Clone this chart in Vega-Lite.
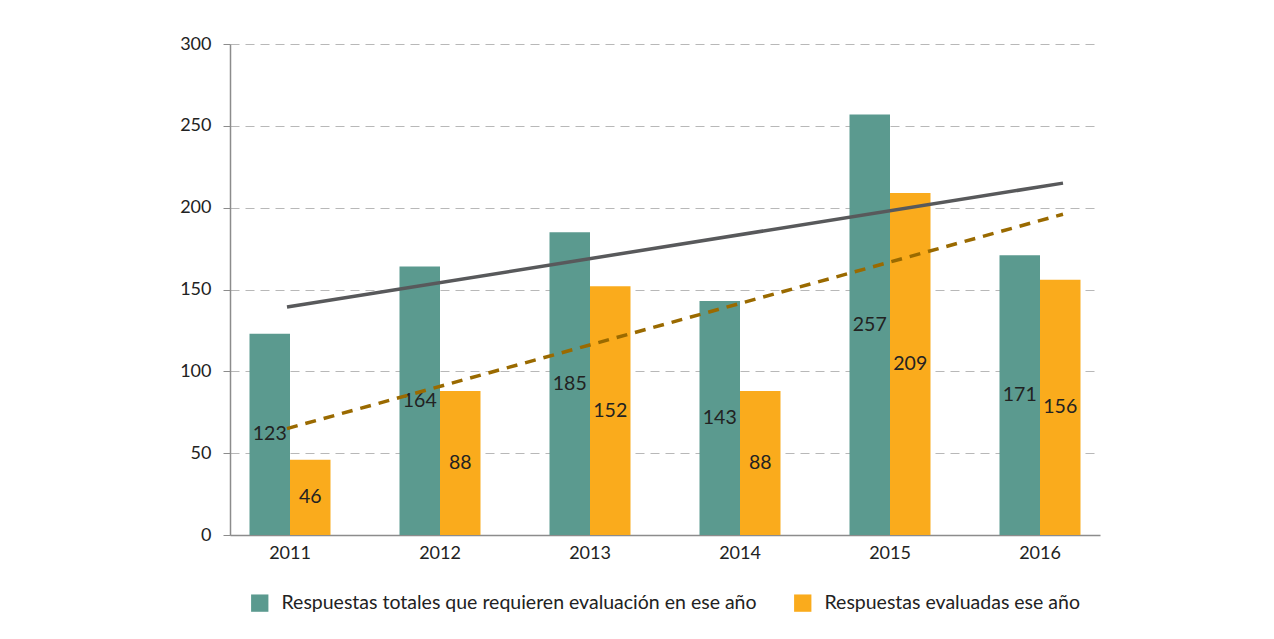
{
  "$schema": "https://vega.github.io/schema/vega-lite/v6.json",
  "autosize": {"type": "none"},
  "padding": {"left": 230, "top": 44, "right": 174, "bottom": 104},
  "width": 870,
  "height": 491,
  "background": "white",
  "config": {
    "view": {"stroke": null},
    "font": "Lato",
    "axis": {"labelFont": "Lato", "labelFontSize": 18, "labelColor": "#222222", "titleFont": "Lato"},
    "legend": {"labelFont": "Lato"}
  },
  "datasets": {
    "bars": [
      {"year": "2011", "serie": "Respuestas totales que requieren evaluación en ese año", "v": 123},
      {"year": "2011", "serie": "Respuestas evaluadas ese año", "v": 46},
      {"year": "2012", "serie": "Respuestas totales que requieren evaluación en ese año", "v": 164},
      {"year": "2012", "serie": "Respuestas evaluadas ese año", "v": 88},
      {"year": "2013", "serie": "Respuestas totales que requieren evaluación en ese año", "v": 185},
      {"year": "2013", "serie": "Respuestas evaluadas ese año", "v": 152},
      {"year": "2014", "serie": "Respuestas totales que requieren evaluación en ese año", "v": 143},
      {"year": "2014", "serie": "Respuestas evaluadas ese año", "v": 88},
      {"year": "2015", "serie": "Respuestas totales que requieren evaluación en ese año", "v": 257},
      {"year": "2015", "serie": "Respuestas evaluadas ese año", "v": 209},
      {"year": "2016", "serie": "Respuestas totales que requieren evaluación en ese año", "v": 171},
      {"year": "2016", "serie": "Respuestas evaluadas ese año", "v": 156}
    ],
    "trendTotal": [
      {"t": 0, "v": 139.3},
      {"t": 5, "v": 215}
    ],
    "trendEval": [
      {"t": 0, "v": 65},
      {"t": 5, "v": 196}
    ]
  },
  "layer": [
    {
      "data": {"name": "bars"},
      "layer": [
        {
          "mark": {"type": "bar"},
          "encoding": {
            "x": {
              "field": "year", "type": "nominal",
              "scale": {"paddingInner": 0.46, "paddingOuter": 0.13},
              "axis": {"title": null, "labelAngle": 0, "ticks": false, "domainColor": "#8c8c8c", "domainWidth": 1.5, "labelPadding": 9, "grid": false}
            },
            "xOffset": {
              "field": "serie", "type": "nominal",
              "sort": ["Respuestas totales que requieren evaluación en ese año", "Respuestas evaluadas ese año"],
              "scale": {"paddingInner": 0, "paddingOuter": 0}
            },
            "y": {
              "field": "v", "type": "quantitative",
              "scale": {"domain": [0, 300], "nice": false},
              "axis": {
                "title": null, "values": [0, 50, 100, 150, 200, 250, 300],
                "domainColor": "#8c8c8c", "domainWidth": 1.5, "tickColor": "#8c8c8c", "tickSize": 7,
                "labelPadding": 12, "gridColor": "#b8b8b8", "gridDash": [9, 6], "gridWidth": 1.2
              }
            },
            "color": {
              "field": "serie", "type": "nominal",
              "sort": ["Respuestas totales que requieren evaluación en ese año", "Respuestas evaluadas ese año"],
              "scale": {"range": ["#5B9A8F", "#FAAB1C"]},
              "legend": {
                "title": null, "orient": "none", "direction": "horizontal",
                "legendX": 20, "legendY": 549,
                "symbolType": "square", "symbolSize": 300, "symbolStrokeWidth": 0,
                "labelFontSize": 19.5, "labelColor": "#222222", "columnPadding": 36, "labelOffset": 12,
                "labelLimit": 600
              }
            }
          }
        },
        {
          "transform": [{"calculate": "datum.v / 2", "as": "mid"}],
          "mark": {"type": "text", "fontSize": 19.5, "color": "#222222", "font": "Lato"},
          "encoding": {
            "x": {"field": "year", "type": "nominal"},
            "xOffset": {"field": "serie", "type": "nominal", "sort": ["Respuestas totales que requieren evaluación en ese año", "Respuestas evaluadas ese año"]},
            "y": {"field": "mid", "type": "quantitative"},
            "text": {"field": "v", "type": "quantitative"}
          }
        }
      ]
    },
    {
      "data": {"name": "trendTotal"},
      "mark": {"type": "line", "color": "#58595B", "strokeWidth": 3.5},
      "encoding": {
        "x": {"field": "t", "type": "quantitative", "scale": {"domain": [-0.3673, 5.2384], "nice": false, "zero": false}, "axis": null},
        "y": {"field": "v", "type": "quantitative"}
      }
    },
    {
      "data": {"name": "trendEval"},
      "mark": {"type": "line", "color": "#9A6A00", "strokeWidth": 3.5, "strokeDash": [11, 8]},
      "encoding": {
        "x": {"field": "t", "type": "quantitative", "scale": {"domain": [-0.3673, 5.2384], "nice": false, "zero": false}, "axis": null},
        "y": {"field": "v", "type": "quantitative"}
      }
    }
  ],
  "resolve": {"scale": {"x": "independent"}}
}
